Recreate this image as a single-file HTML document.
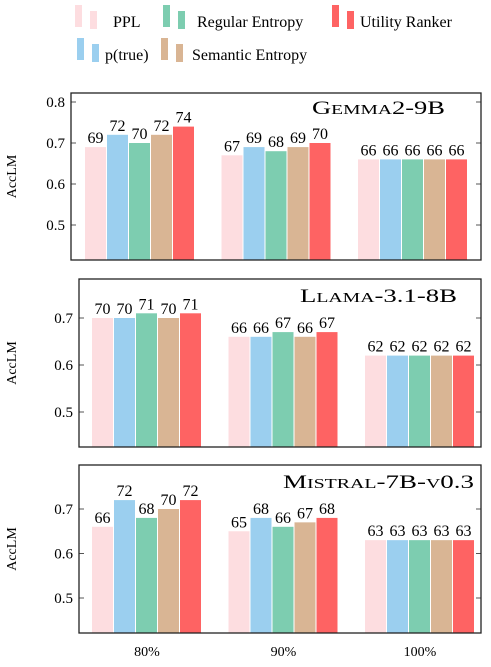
<!DOCTYPE html>
<html><head><meta charset="utf-8"><style>
body{margin:0;background:#fff}
svg text{font-family:"Liberation Serif",serif}
</style></head><body>
<svg width="491" height="662" xmlns="http://www.w3.org/2000/svg">
<g id="legend"></g>
<g id="plots"></g>
</svg>
<script>
const categories=["80%","90%","100%"];
const seriesNames=["PPL","p(true)","Regular Entropy","Semantic Entropy","Utility Ranker"];
const colors=["#fddde0","#9bcfef","#7dcdb0","#d9b594","#fe6363"];
const gemma=[[0.69,0.72,0.70,0.72,0.74],[0.67,0.69,0.68,0.69,0.70],[0.66,0.66,0.66,0.66,0.66]];
const gemmaLbl=[["69","72","70","72","74"],["67","69","68","69","70"],["66","66","66","66","66"]];
const llama=[[0.70,0.70,0.71,0.70,0.71],[0.66,0.66,0.67,0.66,0.67],[0.62,0.62,0.62,0.62,0.62]];
const llamaLbl=[["70","70","71","70","71"],["66","66","67","66","67"],["62","62","62","62","62"]];
const mistral=[[0.66,0.72,0.68,0.70,0.72],[0.65,0.68,0.66,0.67,0.68],[0.63,0.63,0.63,0.63,0.63]];
const mistralLbl=[["66","72","68","70","72"],["65","68","66","67","68"],["63","63","63","63","63"]];
const gemmaTicks=[0.5,0.6,0.7,0.8];
const otherTicks=[0.5,0.6,0.7];
const NS="http://www.w3.org/2000/svg";
function mk(t,a,p){const e=document.createElementNS(NS,t);for(const k in a)e.setAttribute(k,a[k]);p.appendChild(e);return e;}
const plots=document.getElementById('plots');
const panels=[
 {name:"gemma",title:"Gemma2-9B",tx:312,tw:133,tb:114,data:gemma,lbl:gemmaLbl,ticks:gemmaTicks,x0:71,x1:481,top:93,bot:260,v0:0.5,y0:225,ppt:410,g0:140},
 {name:"llama",title:"Llama-3.1-8B",tx:300,tw:157,tb:302,data:llama,lbl:llamaLbl,ticks:otherTicks,x0:79,x1:481,top:279,bot:447,v0:0.5,y0:412,ppt:470,g0:147},
 {name:"mistral",title:"Mistral-7B-v0.3",tx:283,tw:191,tb:488,data:mistral,lbl:mistralLbl,ticks:otherTicks,x0:79,x1:481,top:465,bot:633,v0:0.5,y0:598,ppt:445,g0:147}
];
panels.forEach((P,pi)=>{
 const g=mk('g',{},plots);
 
 
 const y=v=>P.y0-(v-P.v0)*P.ppt;
 const gx=i=>P.g0+i*136.5;
 P.ticks.forEach(t=>{
  const yy=y(t);
  const tl=mk('line',{x1:P.x0,x2:P.x0+5,y1:yy,y2:yy,stroke:'#555','stroke-width':1},g);
  
  mk('line',{x1:P.x1-5,x2:P.x1,y1:yy,y2:yy,stroke:'#555','stroke-width':1},g);
  const tx=mk('text',{x:P.x0-6,y:yy+5,'text-anchor':'end','font-size':15},g);
  tx.textContent=t.toFixed(1);
  
 });
 P.data.forEach((grp,ci)=>{
  grp.forEach((v,si)=>{
   const bx=gx(ci)-55+si*22;
   const r=mk('rect',{x:bx,y:y(v),width:21,height:P.bot-y(v),fill:colors[si]},g);
   
   
   const lt=mk('text',{x:bx+10.5,y:y(v)-4,'text-anchor':'middle','font-size':16},g);
   lt.textContent=P.lbl[ci][si];
   
  });
 });
 const fr=mk('rect',{x:P.x0,y:P.top,width:P.x1-P.x0,height:P.bot-P.top,fill:'none',stroke:'#222','stroke-width':1.3},g);
 
 const tt=mk('text',{x:P.tx,y:P.tb,'font-size':19,textLength:P.tw,lengthAdjust:'spacingAndGlyphs'},g);
 
 for(const ch of P.title){
  const s=mk('tspan',{},tt);
  if(ch>='a'&&ch<='z'){s.setAttribute('font-size',14);s.textContent=ch.toUpperCase();}
  else s.textContent=ch;
 }
 const yl=mk('text',{x:0,y:0,'text-anchor':'middle','font-size':14,transform:`translate(16,${(P.top+P.bot)/2}) rotate(-90)`},g);
 yl.textContent="AccLM";
 
 if(pi===2){categories.forEach((c,ci)=>{
  const xt=mk('text',{x:gx(ci),y:656,'text-anchor':'middle','font-size':14},g);
  xt.textContent=c;
  
 });}
});
const leg=document.getElementById('legend');
const legBar=[[75,5],[77,38],[163,5],[161,38],[332,5]];
const legText=[113,105,197,192,360];
seriesNames.forEach((n,i)=>{
 const [lx,ly]=legBar[i];
 const e=mk('g',{},leg);
 
 
 mk('rect',{x:lx,y:ly,width:7,height:22,fill:colors[i]},e);
 mk('rect',{x:lx+15,y:ly+6,width:7,height:18,fill:colors[i]},e);
 const t=mk('text',{x:legText[i],y:ly+22,'font-size':16},e);
 t.textContent=n;
});
</script>
</body></html>
